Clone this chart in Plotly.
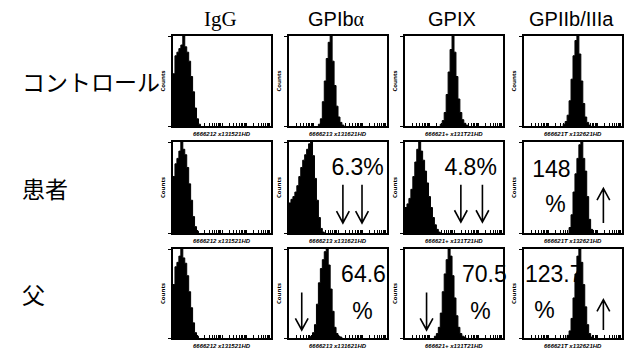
import plotly.graph_objects as go
import math

# page: 640x360 window, body has 8px default margin
PAGE_W, PAGE_H, OFF = 640, 360, 8
W, H = PAGE_W - 2 * OFF, PAGE_H - 2 * OFF

# ---------------- data ----------------
col_titles = ["IgG",
              "GPIb<span style='font-family:Liberation Serif'>α</span>",
              "GPIX",
              "GPIIb/IIIa"]
row_labels = ["コントロール", "患者", "父"]
axis_labels = ["6666212 x131521HD", "6666213 x131621HD",
               "666621+ x131T21HD", "666621T x132621HD"]

BIN_WIDTH = 2  # channel units (axis range 0-100)

# histograms: first bin index, counts per bin
igg_control_start, igg_control = 0, [58, 78, 82, 86, 90, 100, 88, 82, 72, 55, 38, 20, 8, 2]
igg_patient_start, igg_patient = 0, [62, 76, 82, 90, 100, 92, 86, 72, 54, 36, 18, 7, 2]
igg_father_start, igg_father = 0, [60, 80, 85, 92, 100, 90, 84, 70, 52, 34, 17, 6, 2]

gp1ba_control_start, gp1ba_control = 15, [2, 8, 27, 50, 75, 93, 100, 72, 45, 22, 10, 4, 1]
gp1ba_patient_start, gp1ba_patient = 0, [33, 37, 40, 45, 52, 62, 72, 80, 86, 92, 98, 100, 85, 60, 36, 17, 5, 1]
gp1ba_father_start, gp1ba_father = 11, [2, 6, 15, 38, 62, 78, 88, 97, 100, 82, 55, 30, 12, 5, 2, 1]

gpix_control_start, gpix_control = 18, [2, 6, 15, 35, 60, 85, 100, 82, 55, 30, 15, 7, 3, 1]
gpix_patient_start, gpix_patient = 0, [28, 32, 38, 48, 62, 78, 92, 100, 90, 80, 68, 55, 40, 28, 17, 9, 4, 1]
gpix_father_start, gpix_father = 15, [2, 5, 12, 28, 52, 72, 88, 100, 92, 70, 45, 25, 12, 5, 2, 1]

gp2b_control_start, gp2b_control = 20, [2, 5, 12, 28, 52, 78, 95, 100, 80, 50, 25, 10, 4, 1]
gp2b_patient_start, gp2b_patient = 23, [6, 20, 45, 65, 82, 97, 100, 82, 68, 40, 15, 4]
gp2b_father_start, gp2b_father = 22, [3, 8, 22, 45, 72, 92, 100, 85, 60, 35, 15, 5, 1]

hists = [
    [(igg_control_start, igg_control), (gp1ba_control_start, gp1ba_control),
     (gpix_control_start, gpix_control), (gp2b_control_start, gp2b_control)],
    [(igg_patient_start, igg_patient), (gp1ba_patient_start, gp1ba_patient),
     (gpix_patient_start, gpix_patient), (gp2b_patient_start, gp2b_patient)],
    [(igg_father_start, igg_father), (gp1ba_father_start, gp1ba_father),
     (gpix_father_start, gpix_father), (gp2b_father_start, gp2b_father)],
]

# expression values (% of control) and their label positions
value_texts = {
    (1, 1): [("6.3%", 70, 70)],
    (1, 2): [("4.8%", 67, 70)],
    (1, 3): [("148", 28, 68), ("%", 32, 29)],
    (2, 1): [("64.6", 76, 69), ("%", 75, 28)],
    (2, 2): [("70.5", 81, 69), ("%", 77, 28)],
    (2, 3): [("123.7", 1, 69), ("%", 21, 29)],
}
# arrows: (x, tail y, head y)
arrows = {
    (1, 1): [(55, 53, 11), (74.5, 53, 11)],
    (1, 2): [(57, 53, 12), (79, 53, 12)],
    (1, 3): [(81, 11, 49)],
    (2, 1): [(13, 51, 9)],
    (2, 2): [(22, 51, 9)],
    (2, 3): [(81, 9, 43)],
}

# ---------------- layout geometry (page pixels) ----------------
col_px = [(173, 271), (289, 387), (405, 503), (524, 622)]
row_px = [(36, 126), (142, 233), (249, 338)]


def px(p):
    return (p - OFF) / W


def py(p):
    return 1 - (p - OFF) / H


fig = go.Figure()
layout = dict(width=W, height=H, margin=dict(l=0, r=0, t=0, b=0, autoexpand=False),
              template="none",
              paper_bgcolor="white", plot_bgcolor="white", showlegend=False)
shapes = []
annotations = []

minor_ticks = []
for d in range(4):
    for k in range(1, 10):
        minor_ticks.append(25 * d + 25 * math.log10(k))
minor_ticks.append(100)

idx = 0
for r in range(3):
    for c in range(4):
        idx += 1
        xa = "x" if idx == 1 else f"x{idx}"
        ya = "y" if idx == 1 else f"y{idx}"
        xkey = "xaxis" if idx == 1 else f"xaxis{idx}"
        ykey = "yaxis" if idx == 1 else f"yaxis{idx}"
        x0, x1 = col_px[c]
        y0, y1 = row_px[r]
        layout[xkey] = dict(domain=[px(x0), px(x1)], range=[0, 100], anchor=ya,
                            automargin=False,
                            showgrid=False, zeroline=False, showline=True, mirror=True,
                            linecolor="black", linewidth=2, ticks="inside", ticklen=3,
                            tickwidth=1, tickcolor="black", tickvals=minor_ticks,
                            showticklabels=False, fixedrange=True)
        layout[ykey] = dict(domain=[py(y1), py(y0)], range=[0, 100], anchor=xa,
                            automargin=False,
                            showgrid=False, zeroline=False, showline=True, mirror=True,
                            linecolor="black", linewidth=2, ticks="outside", ticklen=3,
                            tickwidth=1, tickcolor="black", tickvals=[0, 100],
                            showticklabels=False, fixedrange=True,
                            title=dict(text="<b>Counts</b>", font=dict(size=6, color="black"),
                                       standoff=2))
        # value labels (drawn first so the histogram covers them)
        for (txt, tx, ty) in value_texts.get((r, c), []):
            fig.add_trace(go.Scatter(x=[tx], y=[ty], mode="text", text=[txt],
                                     textposition="middle right" if txt == "123.7" else "middle center",
                                     textfont=dict(size=23, color="black",
                                                   family="Liberation Sans, Arial"),
                                     cliponaxis=False, xaxis=xa, yaxis=ya, hoverinfo="skip"))
        start, counts = hists[r][c]
        xs = [(start + i) * BIN_WIDTH for i in range(len(counts) + 1)]
        ys = counts + [0]
        fig.add_trace(go.Scatter(x=[xs[0]] + xs, y=[0] + ys, mode="lines",
                                 line=dict(shape="hv", color="black", width=1),
                                 fill="tozeroy", fillcolor="black",
                                 xaxis=xa, yaxis=ya, hoverinfo="skip"))
        for (ax, yt, yh) in arrows.get((r, c), []):
            dy = 13 if yh < yt else -13
            path = (f"M {ax},{yt} L {ax},{yh} M {ax - 6.5},{yh + dy} "
                    f"L {ax},{yh} L {ax + 6.5},{yh + dy}")
            shapes.append(dict(type="path", path=path, xref=xa, yref=ya,
                               line=dict(color="black", width=1.6)))
        # tiny axis label under each box
        annotations.append(dict(text=f"<i><b>{axis_labels[c]}</b></i>", x=px((x0 + x1) / 2),
                                y=py(y1 + 8), xref="paper", yref="paper",
                                xanchor="center", yanchor="middle",
                                showarrow=False, font=dict(size=6, color="black",
                                                           family="Liberation Sans")))

# column titles
for c, t in enumerate(col_titles):
    fam = "Liberation Serif" if c == 0 else "Liberation Sans, Noto Sans CJK JP"
    annotations.append(dict(text=t, x=px((col_px[c][0] + col_px[c][1]) / 2 - 2),
                            y=py(19), xref="paper", yref="paper", showarrow=False,
                            xanchor="center", yanchor="middle",
                            font=dict(size=20 if c else 21, color="black", family=fam)))
# row labels
for r, t in enumerate(row_labels):
    annotations.append(dict(text=t, x=px(20), y=py((row_px[r][0] + row_px[r][1]) / 2),
                            xref="paper", yref="paper", xanchor="left", yanchor="middle",
                            showarrow=False,
                            font=dict(size=23, color="black", family="Noto Sans CJK JP")))

layout["shapes"] = shapes
layout["annotations"] = annotations
fig.update_layout(**layout)
fig.write_html("out.html")
